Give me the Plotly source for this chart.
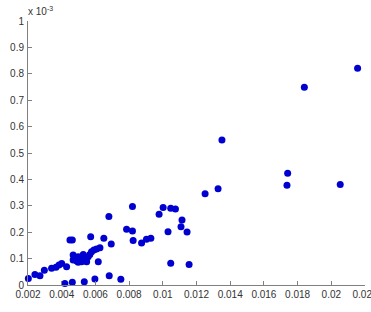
import plotly.graph_objects as go

# data (y in units of 1e-3)
x_vals = [0.00202, 0.00241, 0.00271, 0.00297, 0.00340, 0.00366, 0.00384, 0.00400, 0.00429,
          0.00449, 0.00463, 0.00419, 0.00463, 0.00468, 0.00534, 0.00572, 0.00597, 0.00617,
          0.00627, 0.00650, 0.00682, 0.00694, 0.00751, 0.00785, 0.00680, 0.00820, 0.00820,
          0.00824, 0.00874, 0.00903, 0.00929, 0.00978, 0.01002, 0.01047, 0.01075, 0.01031,
          0.01114, 0.01108, 0.01144, 0.01047, 0.01156, 0.01251, 0.01328, 0.01351, 0.01741,
          0.01737, 0.01840, 0.02053, 0.02156,
          0.00479, 0.00498, 0.00489, 0.00508, 0.00518, 0.00528, 0.00538, 0.00548, 0.00557,
          0.00567, 0.00577, 0.00591, 0.00607, 0.00548, 0.00518, 0.00498, 0.00468, 0.00528]
y_vals = [0.025, 0.040, 0.035, 0.056, 0.063, 0.067, 0.076, 0.081, 0.069,
          0.170, 0.170, 0.006, 0.010, 0.114, 0.012, 0.183, 0.023, 0.088,
          0.141, 0.177, 0.035, 0.155, 0.022, 0.211, 0.259, 0.297, 0.205,
          0.169, 0.159, 0.173, 0.177, 0.268, 0.294, 0.291, 0.288, 0.202,
          0.246, 0.221, 0.201, 0.082, 0.078, 0.346, 0.365, 0.549, 0.423,
          0.378, 0.749, 0.381, 0.821,
          0.101, 0.107, 0.091, 0.097, 0.101, 0.103, 0.095, 0.101, 0.107,
          0.116, 0.126, 0.133, 0.136, 0.088, 0.088, 0.086, 0.095, 0.116]

x_ticks = [0.002, 0.004, 0.006, 0.008, 0.010, 0.012, 0.014, 0.016, 0.018, 0.020, 0.022]
x_tick_labels = ["0.002", "0.004", "0.006", "0.008", "0.01", "0.012", "0.014", "0.016", "0.018", "0.02", "0.022"]
y_ticks = [0, 0.1, 0.2, 0.3, 0.4, 0.5, 0.6, 0.7, 0.8, 0.9, 1.0]
y_tick_labels = ["0", "0.1", "0.2", "0.3", "0.4", "0.5", "0.6", "0.7", "0.8", "0.9", "1"]

fig = go.Figure()
fig.add_trace(go.Scatter(
    x=x_vals, y=y_vals, mode="markers",
    marker=dict(color="#0000d0", size=7, line=dict(width=0)),
    showlegend=False, cliponaxis=False,
))

axis_font = dict(family="Liberation Sans, Arial, sans-serif", size=10, color="#333333")
fig.update_layout(
    width=371, height=312,
    margin=dict(l=28, r=5.5, t=21, b=27, autoexpand=False),
    paper_bgcolor="white", plot_bgcolor="white",
    xaxis=dict(range=[0.002, 0.022], tickvals=x_ticks, ticktext=x_tick_labels,
               ticks="inside", ticklen=4, tickcolor="#808080", showgrid=False,
               zeroline=False, showline=True, linecolor="#808080", linewidth=1,
               tickfont=axis_font, ticklabelstandoff=0, ticklabeloverflow="allow",
               automargin=False),
    yaxis=dict(range=[0, 1.0], tickvals=y_ticks, ticktext=y_tick_labels,
               ticks="inside", ticklen=4, tickcolor="#808080", showgrid=False,
               zeroline=False, showline=True, linecolor="#808080", linewidth=1,
               tickfont=axis_font, ticklabelstandoff=1, ticklabeloverflow="allow",
               automargin=False),
    annotations=[dict(text="x 10<sup>-3</sup>", x=0, y=1, xref="paper", yref="paper",
                      xanchor="left", yanchor="bottom", showarrow=False,
                      font=dict(family="Liberation Sans, Arial, sans-serif", size=10, color="#333333"),
                      xshift=-2, yshift=2)],
)
fig.write_html("out.html")
